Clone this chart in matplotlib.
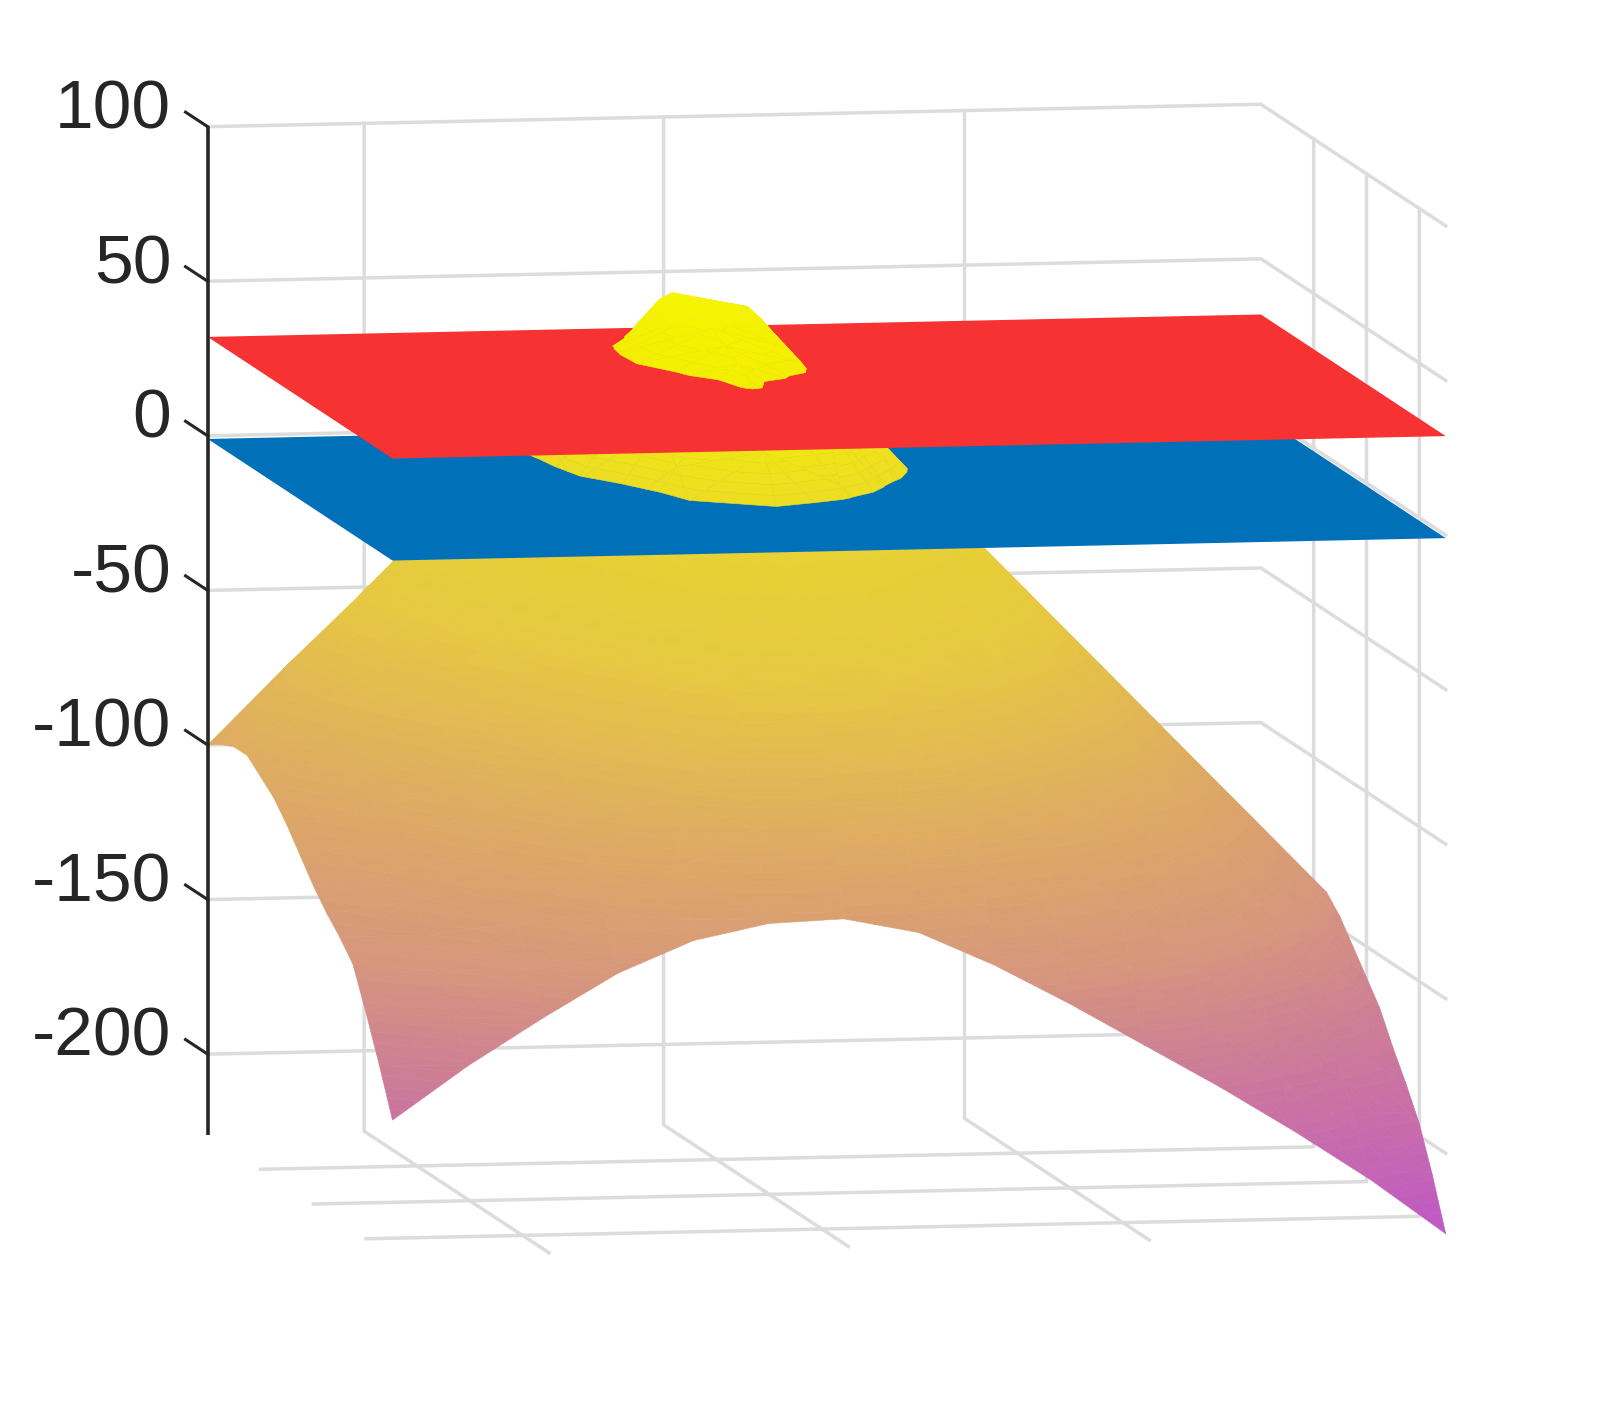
import numpy as np
import matplotlib
matplotlib.use('Agg')
import matplotlib.pyplot as plt
from matplotlib.colors import LinearSegmentedColormap, Normalize
from mpl_toolkits.mplot3d import proj3d
from mpl_toolkits.mplot3d.art3d import Poly3DCollection

plt.rcParams['font.family'] = ['Liberation Sans', 'DejaVu Sans']

# surface heights, one list per x value, y going 4 -> 0.5
x_vals = [0.5, 0.75, 1.0, 1.25, 1.5, 1.75, 2.0, 2.25, 2.5, 2.75, 3.0, 3.25, 3.5, 3.75, 4.0]
y_vals = [4.0, 3.75, 3.5, 3.25, 3.0, 2.75, 2.5, 2.25, 2.0, 1.75, 1.5, 1.25, 1.0, 0.75, 0.5]
z_vals = [
    [-100, -97, -95, -95, -99, -103, -109, -116, -123, -129, -134, -140, -153, -167, -182],
    [-76, -72, -74, -78, -83, -89, -95, -102, -109, -116, -123, -131, -140, -152, -165],
    [-53, -47, -50, -55, -60, -67, -74, -82, -90, -98, -106, -115, -125, -137, -150],
    [-29, -23, -24, -28, -34, -41, -49, -58, -67, -76, -85, -95, -106, -120, -136],
    [-6, 1, 5, 3, 1, -3, -17, -29, -40, -50, -61, -73, -86, -105, -126],
    [15, 24, 31.5, 33, 32, 28, 18, 7, -1, -14, -29, -45, -65, -93, -121],
    [41, 46, 47, 45, 43, 40, 37, 34, 14, -3, -20, -38, -60, -90, -120],
    [39, 41, 40, 38, 36, 34, 29, 20, 3, -13, -29, -47, -68, -95, -125],
    [5, 7, 8, 9, 10, 10, 3, -8, -20, -33, -47, -63, -82, -107, -136],
    [-25, -23, -21, -19, -17, -16, -21, -31, -42, -54, -68, -84, -102, -124, -149],
    [-48, -47, -46, -44, -42, -41, -46, -55, -65, -77, -90, -105, -122, -142, -163],
    [-72, -71, -70, -69, -67, -66, -71, -79, -88, -100, -113, -127, -143, -160, -177],
    [-97, -96, -95, -94, -92, -91, -96, -103, -112, -123, -135, -149, -164, -178, -192],
    [-122, -121, -120, -119, -117, -116, -121, -128, -137, -146, -157, -170, -182, -195, -208],
    [-146, -145, -144, -143, -142, -141, -146, -153, -160, -167, -177, -186, -196, -210, -226],
]
red_level = 32
blue_level = -1
x_ticks = [1.02, 2.015, 3.015]
y_ticks = [1, 2, 3]
z_ticks = [-200, -150, -100, -50, 0, 50, 100]
z_labels = ['-200', '-150', '-100', '-50', '0', '50', '100']
xlim = (0.5, 4)
ylim = (0.5, 4)
zlim = (-226, 100)

# colours of the surface, bottom to top
color_levels = [-226, -200, -170, -140, -100, -50, -5, 0, 32, 50]
color_stops = ['#be58c6', '#c669af', '#cd7d96', '#d6967d', '#deaa64', '#e6c841', '#e8d430',
               '#eedd22', '#f2ee05', '#f6f600']
norm = Normalize(zlim[0], 50)
cmap = LinearSegmentedColormap.from_list(
    'surf', [(norm(l), c) for l, c in zip(color_levels, color_stops)])


def cut(poly, level, sign):
    out = []
    for i in range(len(poly)):
        a, b = poly[i], poly[(i + 1) % len(poly)]
        da, db = sign * (a[2] - level), sign * (b[2] - level)
        if da >= 0:
            out.append(a)
        if da * db < 0:
            out.append(a + (b - a) * da / (da - db))
    return out


# facets of the surface between two heights, in thin bands so the colour runs smoothly
def sheet(lo, hi, step=3):
    X, Y = np.meshgrid(x_vals, y_vals, indexing='ij')
    Z = np.array(z_vals, dtype=float)
    pts = np.dstack([X, Y, Z])
    polys, colors = [], []
    for i in range(pts.shape[0] - 1):
        for j in range(pts.shape[1] - 1):
            p, q, r, s = pts[i, j], pts[i + 1, j], pts[i + 1, j + 1], pts[i, j + 1]
            for tri in ([p, q, r], [p, r, s]):
                tlo = max(lo, min(t[2] for t in tri))
                thi = min(hi, max(t[2] for t in tri))
                z0 = tlo
                while z0 < thi:
                    z1 = min(z0 + step, thi)
                    piece = cut(tri, z0, 1)
                    if piece:
                        piece = cut(piece, z1, -1)
                    if len(piece) >= 3:
                        polys.append(np.array(piece))
                        colors.append(cmap(norm((z0 + z1) / 2)))
                    z0 = z1
    return polys, colors


fig = plt.figure(figsize=(15.98, 14.10), dpi=100)
ax = fig.add_axes([0.1, 0.1, 0.6, 0.6 * 1598 / 1410], projection='3d', computed_zorder=False)
ax.set_proj_type('ortho')
ax.view_init(elev=6.8, azim=-100.2)
ax.set_box_aspect((1048, 1022, 994))
ax.set_axis_off()

# grid on the floor and the two back walls
grid = dict(color='#dcdcdc', lw=2.5, zorder=0)
for x in x_ticks:
    ax.plot([x, x, x], [ylim[0], ylim[1], ylim[1]], [zlim[0], zlim[0], zlim[1]], **grid)
for y in y_ticks:
    ax.plot([xlim[0], xlim[1], xlim[1]], [y, y, y], [zlim[0], zlim[0], zlim[1]], **grid)
for z in z_ticks:
    ax.plot([xlim[0], xlim[1], xlim[1]], [ylim[1], ylim[1], ylim[0]], [z, z, z], **grid)

# three pieces of the surface around the two flat planes, painted bottom to top
pieces = [(zlim[0], blue_level, 1), (blue_level, red_level, 3), (red_level, 60, 5)]
for lo, hi, order in pieces:
    polys, colors = sheet(lo, hi)
    ax.add_collection3d(Poly3DCollection(polys, facecolors=colors, edgecolors=colors,
                                         linewidths=0.4, zorder=order))

PX, PY = np.meshgrid(xlim, ylim)
ax.plot_surface(PX, PY, np.full_like(PX, blue_level), color='#0070b9', shade=False, linewidth=0, zorder=2)
ax.plot_surface(PX, PY, np.full_like(PX, red_level), color='#f63232', shade=False, linewidth=0, zorder=4)

# z axis by hand at the back left corner
ax.plot([xlim[0]] * 2, [ylim[1]] * 2, zlim, color='#262626', lw=2.6, zorder=10, solid_capstyle='butt')
for z in z_ticks:
    ax.plot([xlim[0]] * 2, [ylim[1], ylim[1] + 0.42], [z, z], color='#262626', lw=2.2, zorder=10)

ax.set_xlim(xlim)
ax.set_ylim(ylim)
ax.set_zlim(zlim)


# place the axes so the box corners land where they are in the reference
def to_px(p):
    ax.apply_aspect()
    xs, ys, _ = proj3d.proj_transform(p[0], p[1], p[2], ax.get_proj())
    return ax.transData.transform((xs, ys))


W, H = 1598, 1410
corner_a = (xlim[0], ylim[1], zlim[1])
corner_b = (xlim[1], ylim[0], zlim[0])
target_a = (207.7, H - 126.7)
target_b = (1445.7, H - 1232)
size = 0.6 * W * (target_b[0] - target_a[0]) / (to_px(corner_b)[0] - to_px(corner_a)[0])
ax.set_position([0.1, 0.1, size / W, size / H])
pa = to_px(corner_a)
ax.set_position([0.1 + (target_a[0] - pa[0]) / W, 0.1 + (target_a[1] - pa[1]) / H, size / W, size / H])

# tick labels go on the figure, at the spot the axis projects to
for z, lab in zip(z_ticks, z_labels):
    px, py = to_px((xlim[0], ylim[1] + 0.69, z - 2.5))
    fig.text(px / W, py / H, lab, ha='right', va='center', fontsize=50, color='#262626')

fig.savefig('out.png', dpi=100)
